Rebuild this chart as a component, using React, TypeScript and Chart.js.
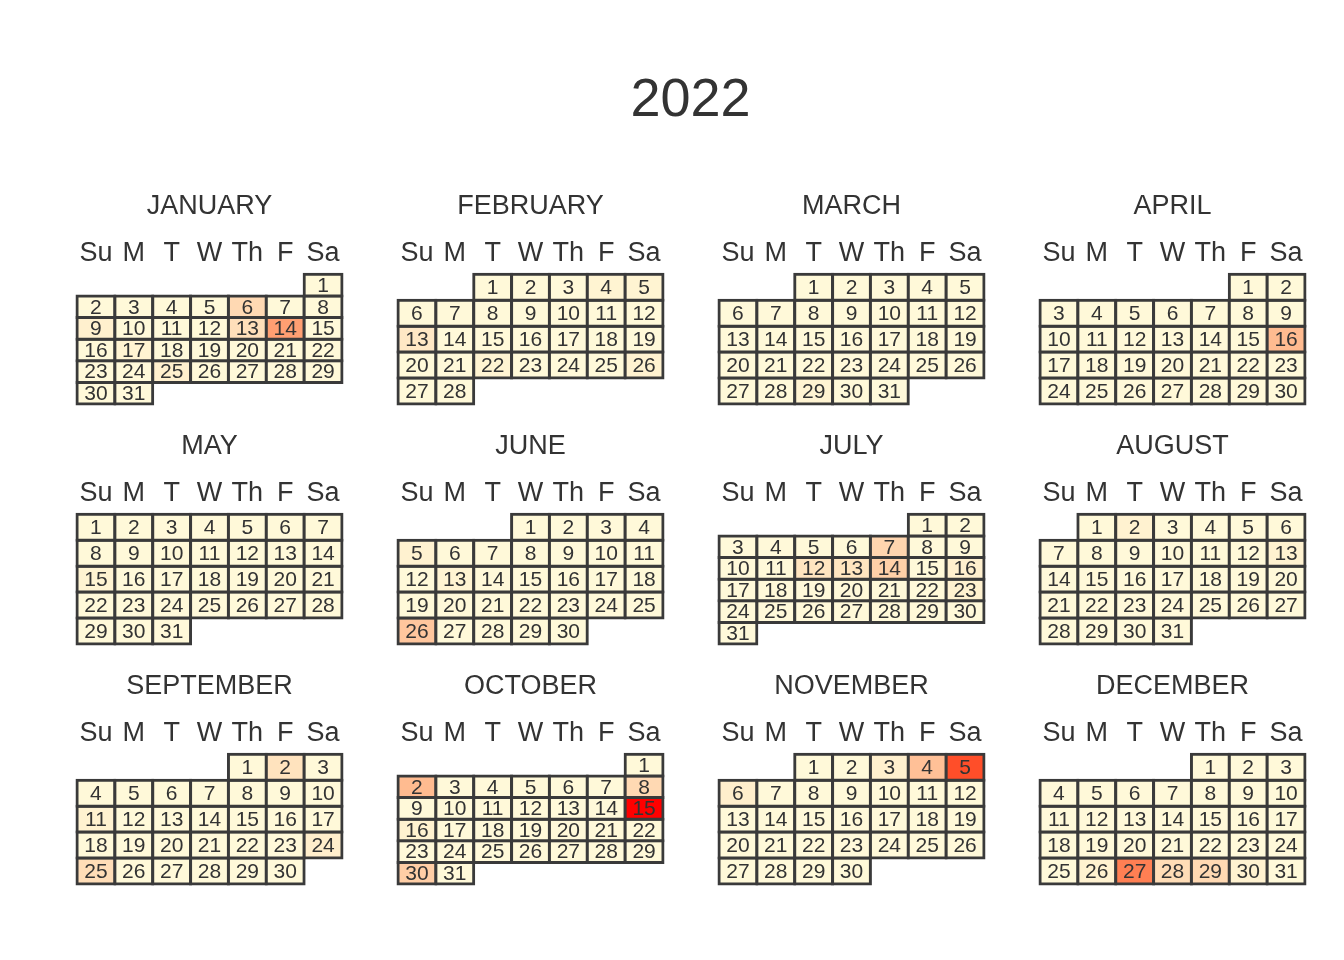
import React, { useEffect, useRef } from "react";
import { Chart, registerables } from "chart.js";

Chart.register(...registerables);

// ---------------- data ----------------
const YEAR = 2022;
const yearTitle = "2022";
const monthNames = [
  "JANUARY", "FEBRUARY", "MARCH", "APRIL", "MAY", "JUNE",
  "JULY", "AUGUST", "SEPTEMBER", "OCTOBER", "NOVEMBER", "DECEMBER",
];
const weekdayLabels = ["Su", "M", "T", "W", "Th", "F", "Sa"];

// days that stand out from the base level (month is 1-based)
const peakMonths = [
  1, 1, 1, 1, 1, 1,
  2, 2, 2, 2, 2,
  3,
  4,
  5,
  6, 6, 6,
  7, 7, 7, 7, 7, 7,
  8, 8,
  9, 9, 9, 9,
  10, 10, 10, 10, 10,
  11, 11, 11, 11,
  12, 12, 12, 12, 12,
];
const peakDays = [
  6, 9, 13, 14, 17, 25,
  4, 5, 13, 22, 26,
  29,
  16,
  15,
  5, 13, 26,
  7, 12, 13, 14, 16, 23,
  2, 13,
  2, 11, 24, 25,
  2, 8, 15, 16, 30,
  3, 4, 5, 6,
  26, 27, 28, 29, 30,
];
const peakValues = [
  20, 8, 17, 50, 6, 8,
  6, 6, 12, 6, 7,
  6,
  36,
  6,
  7, 6, 30,
  22, 14, 14, 25, 8, 7,
  7, 7,
  15, 7, 9, 18,
  36, 20, 100, 7, 26,
  8, 33, 85, 9,
  7, 65, 18, 20, 7,
];
const baseValue = 3;
const minValue = 0;
const maxValue = 100;
const lowColor = "#FFFFE0";
const highColor = "#FF0000";

// ---------------- style ----------------
const FONT = "'Liberation Sans', Arial, Helvetica, sans-serif";
const TEXT = "#333333";
const BORDER = "#3a3a3a";

// ---------------- colour scale (Lab interpolation) ----------------
function hexToRgb(h: string): number[] {
  const s = h.replace("#", "");
  return [0, 2, 4].map((i) => parseInt(s.slice(i, i + 2), 16));
}
function toLin(c: number) {
  c /= 255;
  return c <= 0.04045 ? c / 12.92 : Math.pow((c + 0.055) / 1.055, 2.4);
}
function fromLin(c: number) {
  const v = c <= 0.0031308 ? 12.92 * c : 1.055 * Math.pow(c, 1 / 2.4) - 0.055;
  return Math.round(Math.max(0, Math.min(1, v)) * 255);
}
const WX = 0.95047, WY = 1.0, WZ = 1.08883;
function rgbToLab(rgb: number[]): number[] {
  const [r, g, b] = rgb.map(toLin);
  const x = (0.4124 * r + 0.3576 * g + 0.1805 * b) / WX;
  const y = (0.2126 * r + 0.7152 * g + 0.0722 * b) / WY;
  const z = (0.0193 * r + 0.1192 * g + 0.9505 * b) / WZ;
  const f = (t: number) => (t > 0.008856 ? Math.cbrt(t) : 7.787 * t + 16 / 116);
  const fx = f(x), fy = f(y), fz = f(z);
  return [116 * fy - 16, 500 * (fx - fy), 200 * (fy - fz)];
}
function labToRgb(lab: number[]): number[] {
  const [L, a, bb] = lab;
  const fy = (L + 16) / 116;
  const fx = fy + a / 500;
  const fz = fy - bb / 200;
  const inv = (t: number) => (t * t * t > 0.008856 ? t * t * t : (t - 16 / 116) / 7.787);
  const x = inv(fx) * WX, y = inv(fy) * WY, z = inv(fz) * WZ;
  const r = 3.2406 * x - 1.5372 * y - 0.4986 * z;
  const g = -0.9689 * x + 1.8758 * y + 0.0415 * z;
  const b = 0.0557 * x - 0.204 * y + 1.057 * z;
  return [fromLin(r), fromLin(g), fromLin(b)];
}
const LAB_LO = rgbToLab(hexToRgb(lowColor));
const LAB_HI = rgbToLab(hexToRgb(highColor));
function colorFor(v: number): string {
  const t = Math.max(0, Math.min(1, (v - minValue) / (maxValue - minValue)));
  const lab = LAB_LO.map((lo, i) => lo + (LAB_HI[i] - lo) * t);
  const [r, g, b] = labToRgb(lab);
  return `rgb(${r},${g},${b})`;
}
function valueOf(month1: number, day: number): number {
  for (let i = 0; i < peakMonths.length; i++) {
    if (peakMonths[i] === month1 && peakDays[i] === day) return peakValues[i];
  }
  return baseValue;
}

// ---------------- day number plugin ----------------
const dayNumberPlugin = {
  id: "dayNumbers",
  afterDatasetsDraw(chart: any) {
    const ctx = chart.ctx;
    ctx.save();
    ctx.font = `21px ${FONT}`;
    ctx.fillStyle = TEXT;
    ctx.textAlign = "center";
    ctx.textBaseline = "middle";
    chart.data.datasets.forEach((ds: any, i: number) => {
      const meta = chart.getDatasetMeta(i);
      meta.data.forEach((el: any, j: number) => {
        if (ds.data[j] == null) return;
        const p = el.getCenterPoint();
        ctx.fillText(ds.dayLabels[j], p.x, p.y + 1);
      });
    });
    ctx.restore();
  },
};

// ---------------- layout ----------------
const CANVAS_W = 281;
const CANVAS_H = 236;
const COL_X0 = 69;
const COL_STEP = 321;
const ROW_Y0 = 174;
const ROW_STEP = 240;

function MonthChart({ month }: { month: number }) {
  const ref = useRef<HTMLCanvasElement>(null);
  useEffect(() => {
    if (!ref.current) return;
    const first = new Date(YEAR, month, 1).getDay();
    const nDays = new Date(YEAR, month + 1, 0).getDate();
    const nRows = Math.floor((first + nDays - 1) / 7) + 1;
    const datasets: any[] = [];
    for (let r = 0; r < nRows; r++) {
      const data: any[] = [];
      const colors: string[] = [];
      const labels: string[] = [];
      for (let c = 0; c < 7; c++) {
        const d = r * 7 + c - first + 1;
        if (d >= 1 && d <= nDays) {
          data.push([r, r + 1]);
          colors.push(colorFor(valueOf(month + 1, d)));
          labels.push(String(d));
        } else {
          data.push(null);
          colors.push("rgba(0,0,0,0)");
          labels.push("");
        }
      }
      datasets.push({
        data,
        dayLabels: labels,
        backgroundColor: colors,
        borderColor: BORDER,
        borderWidth: 3,
        borderSkipped: false,
        inflateAmount: 1.5,
        grouped: false,
        barPercentage: 1,
        categoryPercentage: 1,
        clip: false,
      });
    }
    const chart = new Chart(ref.current, {
      type: "bar",
      data: { labels: weekdayLabels, datasets },
      options: {
        animation: false,
        responsive: false,
        maintainAspectRatio: false,
        devicePixelRatio: 1,
        events: [],
        layout: { padding: { left: 8, right: 8, top: 0, bottom: 6 } },
        plugins: {
          legend: { display: false },
          tooltip: { enabled: false },
          title: {
            display: true,
            text: monthNames[month],
            color: TEXT,
            font: { family: FONT, size: 27, weight: "normal" },
            padding: { top: 16.3, bottom: 10.4 },
          },
        },
        scales: {
          x: {
            type: "category",
            position: "top",
            offset: true,
            grid: { display: false, drawTicks: false },
            border: { display: false },
            ticks: {
              color: TEXT,
              font: { family: FONT, size: 27 },
              padding: 4.4,
              maxRotation: 0,
              minRotation: 0,
              autoSkip: false,
            },
          },
          y: {
            type: "linear",
            min: 0,
            max: nRows,
            reverse: true,
            display: false,
          },
        },
      } as any,
      plugins: [dayNumberPlugin],
    });
    return () => chart.destroy();
  }, [month]);
  const col = month % 4;
  const row = Math.floor(month / 4);
  return (
    <canvas
      ref={ref}
      width={CANVAS_W}
      height={CANVAS_H}
      style={{
        position: "absolute",
        left: COL_X0 + COL_STEP * col,
        top: ROW_Y0 + ROW_STEP * row,
        width: CANVAS_W,
        height: CANVAS_H,
      }}
    />
  );
}

export default function App() {
  return (
    <div
      style={{
        position: "absolute",
        left: 0,
        top: 0,
        width: 1344,
        height: 960,
        background: "#ffffff",
        overflow: "hidden",
      }}
    >
      <div
        style={{
          position: "absolute",
          left: 77,
          width: 1227,
          top: 69.6,
          height: 54,
          lineHeight: "54px",
          fontSize: 54,
          fontFamily: FONT,
          color: TEXT,
          textAlign: "center",
        }}
      >
        {yearTitle}
      </div>
      {monthNames.map((_, m) => (
        <MonthChart key={m} month={m} />
      ))}
    </div>
  );
}
